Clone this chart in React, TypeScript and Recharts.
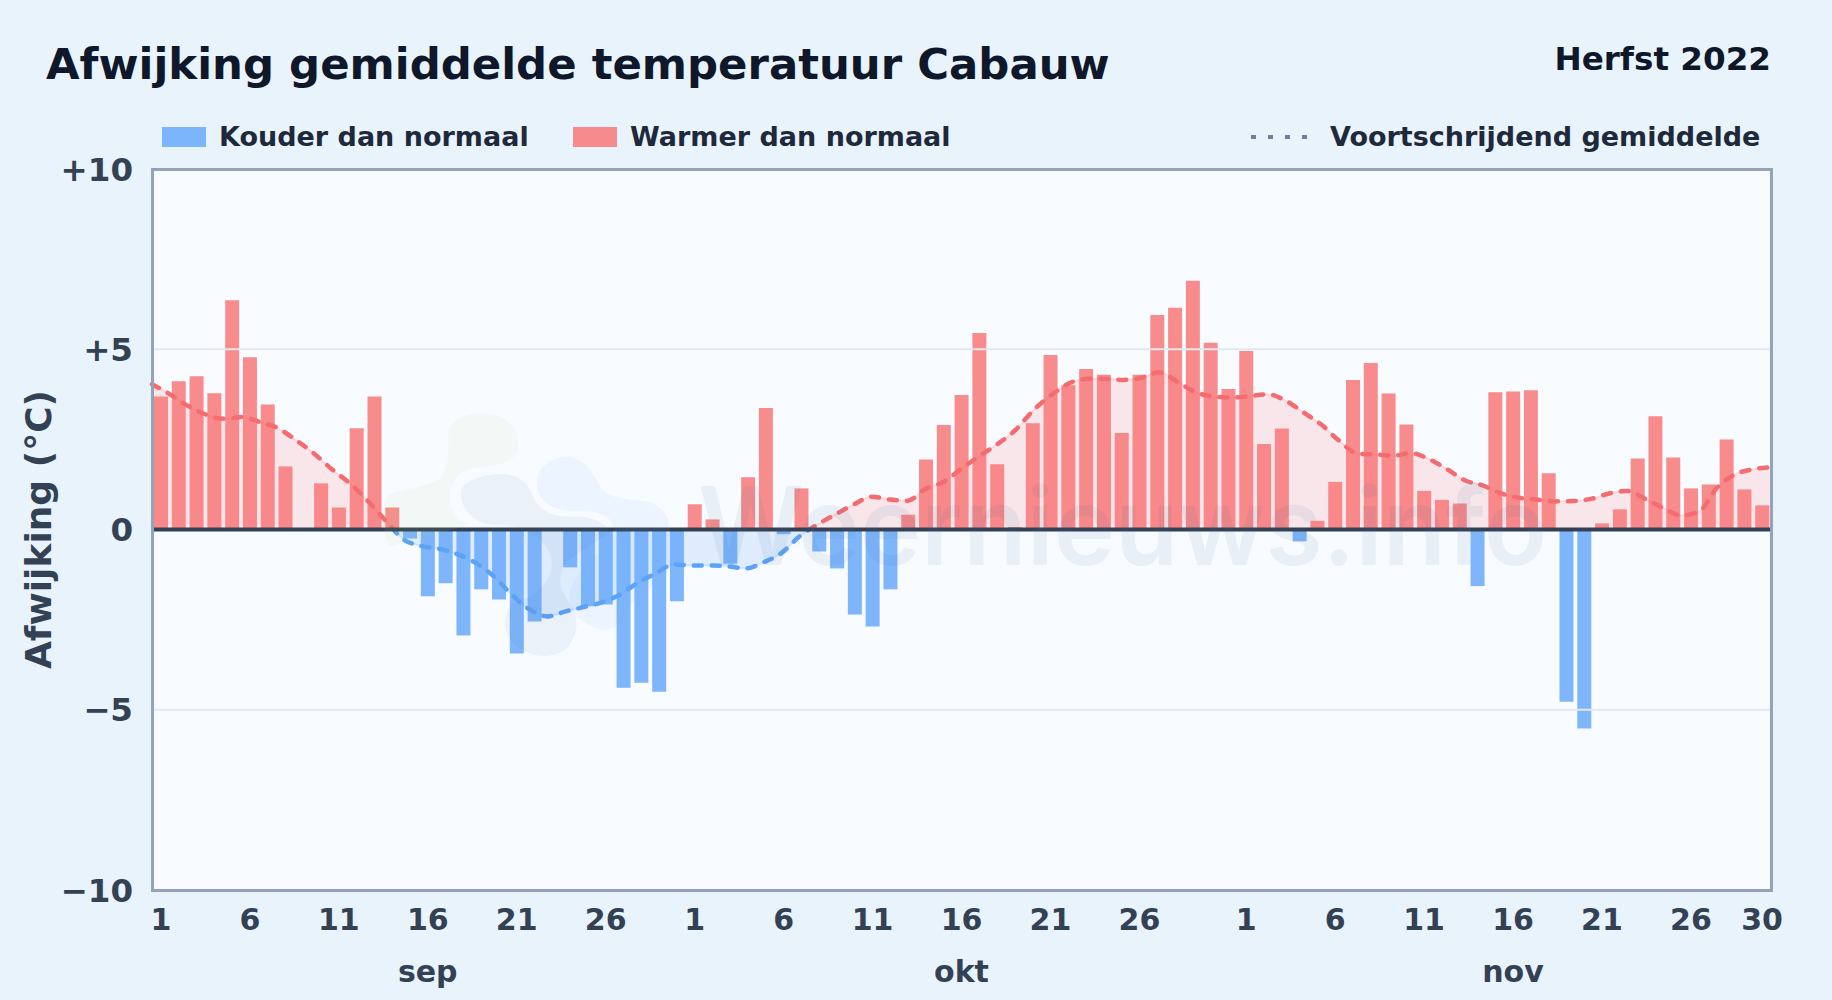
import * as React from 'react';
import { Area, Bar, Cell, ComposedChart, Line, ReferenceLine, XAxis, YAxis } from 'recharts';

const dagen = [
  1, 2, 3, 4, 5, 6, 7, 8, 9, 10, 11, 12, 13, 14, 15, 16, 17, 18, 19, 20, 21, 22, 23, 24, 25, 26, 27, 28, 29, 30,
  1, 2, 3, 4, 5, 6, 7, 8, 9, 10, 11, 12, 13, 14, 15, 16, 17, 18, 19, 20, 21, 22, 23, 24, 25, 26, 27, 28, 29, 30, 31,
  1, 2, 3, 4, 5, 6, 7, 8, 9, 10, 11, 12, 13, 14, 15, 16, 17, 18, 19, 20, 21, 22, 23, 24, 25, 26, 27, 28, 29, 30,
];

const afwijking = [
  3.69, 4.11, 4.25, 3.78, 6.36, 4.78, 3.47, 1.75, 0, 1.28, 0.61, 2.81, 3.69, 0.61, -0.25, -1.85, -1.49, -2.94, -1.66, -1.94, -3.44, -2.55, 0, -1.05, -2.13, -2.08, -4.39, -4.25, -4.5, -1.99,
  0.7, 0.28, -0.95, 1.45, 3.37, -0.13, 1.14, -0.61, -1.08, -2.36, -2.69, -1.66, 0.41, 1.94, 2.9, 3.73, 5.45, 1.81, 0.07, 2.95, 4.84, 4.0, 4.45, 4.29, 2.68, 4.29, 5.95, 6.15, 6.9, 5.18, 3.9,
  4.95, 2.37, 2.8, -0.33, 0.24, 1.32, 4.15, 4.62, 3.77, 2.91, 1.07, 0.82, 0.72, -1.57, 3.81, 3.83, 3.86, 1.56, -4.78, -5.52, 0.17, 0.56, 1.97, 3.14, 2.0, 1.14, 1.25, 2.5, 1.11, 0.67,
];

const gemiddelde = [
  4.03, 3.75, 3.43, 3.19, 3.07, 3.12, 2.98, 2.81, 2.48, 2.11, 1.67, 1.28, 0.79, 0.24, -0.28, -0.46, -0.54, -0.69, -0.93, -1.3, -1.81, -2.22, -2.41, -2.27, -2.15, -2.02, -1.81, -1.48, -1.22, -0.97,
  -1.0, -1.0, -1.02, -1.08, -0.91, -0.65, -0.19, 0.14, 0.42, 0.69, 0.91, 0.83, 0.8, 1.13, 1.32, 1.69, 2.04, 2.37, 2.76, 3.31, 3.73, 4.06, 4.18, 4.18, 4.15, 4.21, 4.36, 4.1, 3.81, 3.69, 3.66,
  3.7, 3.75, 3.58, 3.25, 2.91, 2.46, 2.11, 2.08, 2.05, 2.12, 1.95, 1.67, 1.36, 1.22, 1.0, 0.88, 0.83, 0.78, 0.79, 0.85, 1.0, 1.07, 0.85, 0.6, 0.39, 0.5, 1.16, 1.53, 1.67, 1.73,
];

const dagTicks = [0, 5, 10, 15, 20, 25, 30, 35, 40, 45, 50, 55, 61, 66, 71, 76, 81, 86, 90];
const maandOpDag: Record<number, string> = { 15: 'sep', 45: 'okt', 76: 'nov' };
const yTicks = [-10, -5, 0, 5, 10];

const data = dagen.map((dag, i) => ({ i, dag, afwijking: afwijking[i], gemiddelde: gemiddelde[i] }));

const FONT = '"DejaVu Sans", sans-serif';
const ROOD = '#f87171';
const BLAUW = '#60a5fa';

const maxG = Math.max(...gemiddelde);
const minG = Math.min(...gemiddelde);
const nulPunt = maxG / (maxG - minG);

function formatY(v: number) {
  if (v > 0) return `+${v}`;
  if (v < 0) return `\u2212${-v}`;
  return '0';
}

function DagTick({ x, y, payload }: any) {
  const idx = payload.value as number;
  return (
    <g fontFamily={FONT} fontWeight={700} fill="#334155" textAnchor="middle">
      <text x={x} y={y + 32} fontSize={30}>{dagen[idx]}</text>
      {maandOpDag[idx] && <text x={x} y={y + 84} fontSize={30}>{maandOpDag[idx]}</text>}
    </g>
  );
}

function Watermerk() {
  return (
    <svg width={1832} height={1000} style={{ position: 'absolute', left: 0, top: 0, pointerEvents: 'none' }}>
      <g transform="translate(370,400) scale(0.3333)">
        <path
          d="M235 100 C240 55 300 38 350 40 C410 45 445 85 445 130 C445 175 420 190 340 200 C270 205 240 240 240 290 C240 340 270 365 300 375 L60 440 C40 400 30 330 50 290 C90 265 170 265 210 235 C240 200 235 150 235 100 Z"
          fill="#a3d977"
          opacity={0.07}
        />
        <path
          d="M275 270 C285 240 350 220 400 222 C450 225 475 250 490 290 C505 330 545 352 610 350 C670 348 705 370 722 395 C690 420 650 440 610 470 C560 500 560 560 600 610 C625 650 630 700 590 745 C550 780 470 775 430 730 C395 690 400 640 430 610 C500 590 550 540 545 480 C535 420 470 375 380 375 C310 375 265 320 275 270 Z"
          fill="#3b6ea5"
          opacity={0.07}
        />
        <path
          d="M502 235 C510 190 560 168 600 172 C650 180 670 220 690 260 C710 295 770 298 820 302 C875 310 900 350 900 400 L900 500 C880 560 800 570 780 620 C760 680 710 705 670 680 C620 660 590 620 600 570 C620 530 640 490 700 450 C740 420 745 370 700 345 C650 325 590 340 545 320 C510 300 495 270 502 235 Z"
          fill="#60b5fa"
          opacity={0.08}
        />
      </g>
      <text
        x={698}
        y={565}
        fontFamily="Inter, sans-serif"
        fontWeight={600}
        fontSize={108}
        textLength={849}
        lengthAdjust="spacingAndGlyphs"
        fill="#3b6ea5"
        opacity={0.08}
      >
        Weernieuws.info
      </text>
    </svg>
  );
}

function LegendaTekst({ x, children }: { x: number; children: React.ReactNode }) {
  return (
    <div style={{ position: 'absolute', left: x, top: 120, fontSize: 27, fontWeight: 700, color: '#1e293b', lineHeight: '34px', whiteSpace: 'nowrap' }}>
      {children}
    </div>
  );
}

function Vlak({ x, kleur }: { x: number; kleur: string }) {
  return <div style={{ position: 'absolute', left: x, top: 127, width: 44, height: 20, background: kleur, opacity: 0.8 }} />;
}

export default function App() {
  return (
    <div style={{ position: 'absolute', left: 0, top: 0, width: 1832, height: 1000, background: '#e9f3fc', fontFamily: FONT, overflow: 'hidden' }}>
      <div style={{ position: 'absolute', left: 46, top: 38, fontSize: 43.4, fontWeight: 700, color: '#0f172a', lineHeight: '52px', whiteSpace: 'nowrap' }}>
        Afwijking gemiddelde temperatuur Cabauw
      </div>
      <div style={{ position: 'absolute', right: 61, top: 40, fontSize: 32.6, fontWeight: 700, color: '#0f172a', lineHeight: '38px', whiteSpace: 'nowrap' }}>
        Herfst 2022
      </div>

      <Vlak x={162} kleur={BLAUW} />
      <LegendaTekst x={219}>Kouder dan normaal</LegendaTekst>
      <Vlak x={573} kleur={ROOD} />
      <LegendaTekst x={630}>Warmer dan normaal</LegendaTekst>
      <svg width={60} height={10} style={{ position: 'absolute', left: 1250, top: 132 }}>
        <line x1={1} y1={5} x2={60} y2={5} stroke="#64748b" strokeWidth={4} strokeDasharray="5 12" opacity={0.9} />
      </svg>
      <LegendaTekst x={1330}>Voortschrijdend gemiddelde</LegendaTekst>

      <div style={{ position: 'absolute', left: 152, top: 169, width: 1619, height: 721, background: '#f8fbff' }} />

      <div style={{ position: 'absolute', left: 0, top: 0 }}>
        <ComposedChart width={1832} height={1000} data={data} margin={{ top: 169, right: 61, bottom: 0, left: 0 }} barCategoryGap={0}>
          <defs>
            <linearGradient id="lijnKleur" x1="0" y1="0" x2="0" y2="1">
              <stop offset={nulPunt} stopColor="#f56c70" />
              <stop offset={nulPunt} stopColor="#5ca2f7" />
            </linearGradient>
            <linearGradient id="vlakKleur" x1="0" y1="0" x2="0" y2="1">
              <stop offset={nulPunt} stopColor={ROOD} stopOpacity={0.15} />
              <stop offset={nulPunt} stopColor={BLAUW} stopOpacity={0.17} />
            </linearGradient>
          </defs>
          <XAxis
            xAxisId="dag"
            dataKey="i"
            type="category"
            ticks={dagTicks}
            interval={0}
            height={110}
            tickLine={false}
            axisLine={false}
            tick={<DagTick />}
          />
          <XAxis xAxisId="lijn" dataKey="i" type="number" domain={[0, 90]} hide />
          <YAxis
            domain={[-10, 10]}
            ticks={yTicks}
            width={152}
            tickFormatter={formatY}
            tickLine={false}
            axisLine={false}
            tickMargin={13}
            tick={{ fontSize: 32.5, fontWeight: 700, fill: '#334155', fontFamily: FONT }}
            label={{ value: 'Afwijking (\u00b0C)', angle: -90, position: 'insideLeft', offset: 38, textAnchor: 'middle', fontSize: 36, fontWeight: 700, fill: '#334155', fontFamily: FONT }}
          />
          <ReferenceLine xAxisId="dag" y={5} stroke="#e2e8f0" strokeWidth={2} />
          <ReferenceLine xAxisId="dag" y={-5} stroke="#e2e8f0" strokeWidth={2} />
          <Area
            xAxisId="lijn"
            dataKey="gemiddelde"
            type="monotone"
            fill="url(#vlakKleur)"
            fillOpacity={1}
            stroke="url(#lijnKleur)"
            strokeOpacity={0.18}
            strokeWidth={2}
            dot={false}
            activeDot={false}
            isAnimationActive={false}
          />
          <Bar xAxisId="dag" dataKey="afwijking" barSize={14} isAnimationActive={false}>
            {data.map((d) => (
              <Cell key={d.i} fill={d.afwijking < 0 ? BLAUW : ROOD} fillOpacity={0.8} />
            ))}
          </Bar>
          <Line
            xAxisId="lijn"
            dataKey="gemiddelde"
            type="monotone"
            stroke="url(#lijnKleur)"
            strokeWidth={4.5}
            strokeDasharray="8 10"
            strokeLinecap="round"
            dot={false}
            activeDot={false}
            isAnimationActive={false}
          />
          <ReferenceLine xAxisId="dag" y={0} stroke="#334155" strokeWidth={4} />
        </ComposedChart>
      </div>

      <div style={{ position: 'absolute', left: 151, top: 168, width: 1616, height: 718, border: '3px solid #94a3b8', pointerEvents: 'none' }} />
      <Watermerk />
    </div>
  );
}
